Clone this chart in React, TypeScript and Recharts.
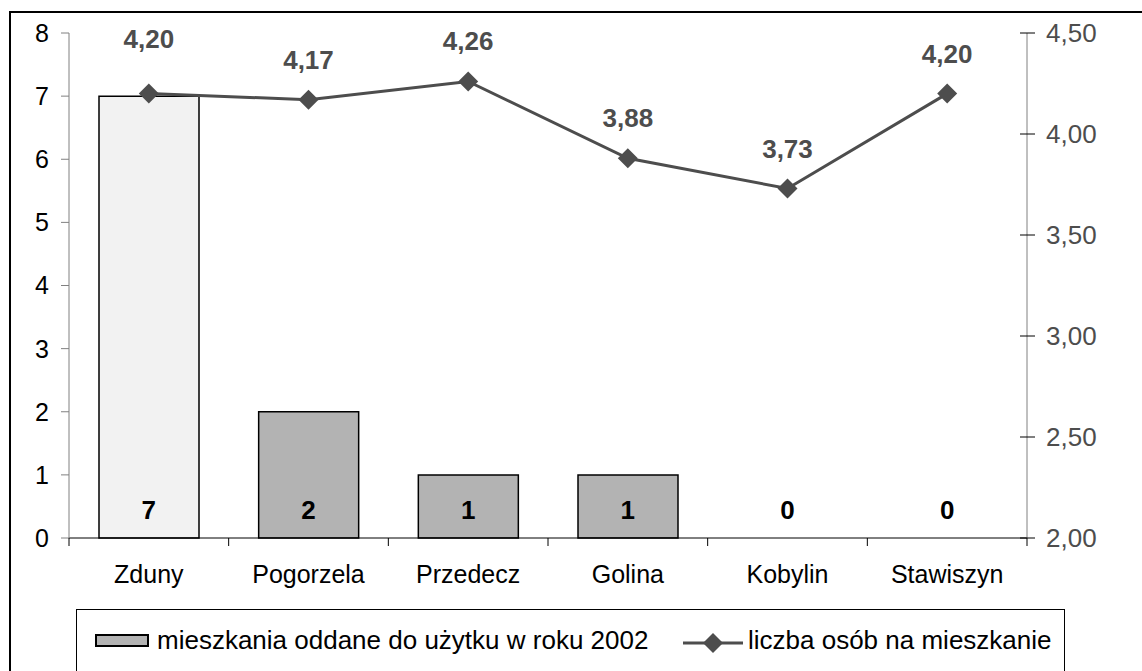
import React from "react"
import {
  Bar,
  Cell,
  ComposedChart,
  LabelList,
  Line,
  XAxis,
  YAxis,
} from "recharts"

const GMINY = ["Zduny", "Pogorzela", "Przedecz", "Golina", "Kobylin", "Stawiszyn"]
const MIESZKANIA = [7, 2, 1, 1, 0, 0]
const OSOBY_NA_MIESZKANIE = [4.2, 4.17, 4.26, 3.88, 3.73, 4.2]
const LEFT_TICKS = [0, 1, 2, 3, 4, 5, 6, 7, 8]
const RIGHT_TICKS = [2, 2.5, 3, 3.5, 4, 4.5]

const LABEL_BAR = "mieszkania oddane do użytku w roku 2002"
const LABEL_LINE = "liczba osób na mieszkanie"

const FONT = "'Liberation Sans', Arial, sans-serif"
const LINE_COLOR = "#4D4D4D"
const BAR_COLOR = "#B3B3B3"
const BAR_HIGHLIGHT = "#F2F2F2"

const CHART_W = 1142
const CHART_H = 671
const PLOT_LEFT = 69
const PLOT_RIGHT = 1027
const PLOT_TOP = 33
const PLOT_BOTTOM = 538
const BAND = (PLOT_RIGHT - PLOT_LEFT) / GMINY.length

const chartData = GMINY.map((gmina, i) => ({
  gmina,
  mieszkania: MIESZKANIA[i],
  osoby: OSOBY_NA_MIESZKANIE[i],
}))

function formatComma(value: number): string {
  return value.toFixed(2).replace(".", ",")
}

function Diamond(props: any) {
  const { cx, cy } = props
  if (cx == null || cy == null) return null
  const r = 10
  return (
    <path
      d={`M${cx},${cy - r} L${cx + r},${cy} L${cx},${cy + r} L${cx - r},${cy} Z`}
      fill={LINE_COLOR}
    />
  )
}

function CategoryTick(props: any) {
  const { x, y, payload, index } = props
  const left = x - BAND / 2
  return (
    <g>
      <line x1={left} y1={PLOT_BOTTOM} x2={left} y2={PLOT_BOTTOM + 8} stroke="#000" strokeWidth={1} />
      {index === GMINY.length - 1 && (
        <line x1={x + BAND / 2} y1={PLOT_BOTTOM} x2={x + BAND / 2} y2={PLOT_BOTTOM + 8} stroke="#000" />
      )}
      <text
        x={x}
        y={y + 28}
        textAnchor="middle"
        dominantBaseline="central"
        fontSize={25}
        fontFamily={FONT}
        fill="#000"
      >
        {payload.value}
      </text>
    </g>
  )
}

function RightTick(props: any) {
  const { x, y, payload } = props
  return (
    <g>
      <line x1={x - 7} y1={y} x2={x + 8} y2={y} stroke="#000" strokeWidth={1} />
      <text
        x={x + 19}
        y={y}
        textAnchor="start"
        dominantBaseline="central"
        fontSize={26}
        fontFamily={FONT}
        fill={LINE_COLOR}
      >
        {formatComma(Number(payload.value))}
      </text>
    </g>
  )
}

// bar values sit just above the baseline, zeros included
function BarValueLabel(props: any) {
  const { x, value } = props
  return (
    <text
      x={x}
      y={PLOT_BOTTOM - 28}
      textAnchor="middle"
      dominantBaseline="central"
      fontSize={26}
      fontWeight="bold"
      fontFamily={FONT}
      fill="#000"
    >
      {String(value)}
    </text>
  )
}

function LineValueLabel(props: any) {
  const { x, y, value, index } = props
  // Excel pushed the first label higher so it clears the bar
  const lift = index === 0 ? 55 : 40
  return (
    <text
      x={x}
      y={Number(y) - lift}
      textAnchor="middle"
      dominantBaseline="central"
      fontSize={26}
      fontWeight="bold"
      fontFamily={FONT}
      fill={LINE_COLOR}
    >
      {formatComma(Number(value))}
    </text>
  )
}

function LegendBox() {
  return (
    <div
      style={{
        position: "absolute",
        left: 76,
        top: 609,
        width: 989,
        height: 120,
        border: "1px solid #000",
        boxSizing: "border-box",
        background: "#fff",
        fontFamily: FONT,
        fontSize: 26,
        color: "#000",
      }}
    >
      <div style={{ position: "absolute", left: 18, top: 24, width: 54, height: 13, background: BAR_COLOR, border: "2px solid #000", boxSizing: "border-box" }} />
      <div style={{ position: "absolute", left: 80, top: 14, lineHeight: "32px", whiteSpace: "nowrap" }}>{LABEL_BAR}</div>
      <svg style={{ position: "absolute", left: 606, top: 20 }} width={62} height={26}>
        <line x1={0} y1={13} x2={60} y2={13} stroke={LINE_COLOR} strokeWidth={3} />
        <path d="M30,3 L40,13 L30,23 L20,13 Z" fill={LINE_COLOR} />
      </svg>
      <div style={{ position: "absolute", left: 671, top: 14, lineHeight: "32px", whiteSpace: "nowrap" }}>{LABEL_LINE}</div>
    </div>
  )
}

export default function App() {
  return (
    <div
      style={{
        position: "absolute",
        left: 0,
        top: 0,
        width: CHART_W,
        height: CHART_H,
        overflow: "hidden",
        background: "#fff",
      }}
    >
      <div
        style={{
          position: "absolute",
          left: 9,
          top: 11,
          width: 1200,
          height: 720,
          border: "2px solid #000",
          boxSizing: "border-box",
        }}
      />
      <div style={{ position: "absolute", left: 0, top: 0 }}>
        <ComposedChart
          width={CHART_W}
          height={CHART_H}
          data={chartData}
          margin={{ top: PLOT_TOP, right: 0, left: 0, bottom: 0 }}
          barCategoryGap={0}
        >
          <XAxis
            dataKey="gmina"
            height={CHART_H - PLOT_BOTTOM}
            axisLine={{ stroke: "#000", strokeWidth: 1 }}
            tickLine={false}
            tick={<CategoryTick />}
            interval={0}
          />
          <YAxis
            yAxisId="left"
            width={PLOT_LEFT}
            domain={[0, 8]}
            ticks={LEFT_TICKS}
            interval={0}
            axisLine={{ stroke: "#808080" }}
            tickLine={{ stroke: "#808080" }}
            tickSize={8}
            tickMargin={12}
            tick={{ fontSize: 25, fill: "#000", fontFamily: FONT }}
          />
          <YAxis
            yAxisId="right"
            orientation="right"
            width={CHART_W - PLOT_RIGHT}
            domain={[2, 4.5]}
            ticks={RIGHT_TICKS}
            interval={0}
            axisLine={{ stroke: "#808080" }}
            tickLine={false}
            tickSize={0}
            tickMargin={0}
            tick={<RightTick />}
          />
          <Bar
            yAxisId="left"
            dataKey="mieszkania"
            barSize={100}
            stroke="#000"
            strokeWidth={1.5}
            isAnimationActive={false}
          >
            {chartData.map((_, i) => (
              <Cell key={i} fill={i === 0 ? BAR_HIGHLIGHT : BAR_COLOR} />
            ))}
          </Bar>
          {/* invisible carrier for the bar value labels so zeros are printed too */}
          <Line
            yAxisId="left"
            dataKey="mieszkania"
            stroke="none"
            dot={false}
            activeDot={false}
            legendType="none"
            isAnimationActive={false}
          >
            <LabelList dataKey="mieszkania" content={<BarValueLabel />} />
          </Line>
          <Line
            yAxisId="right"
            type="linear"
            dataKey="osoby"
            stroke={LINE_COLOR}
            strokeWidth={3}
            dot={<Diamond />}
            activeDot={false}
            isAnimationActive={false}
          >
            <LabelList dataKey="osoby" content={<LineValueLabel />} />
          </Line>
        </ComposedChart>
      </div>
      <LegendBox />
    </div>
  )
}
